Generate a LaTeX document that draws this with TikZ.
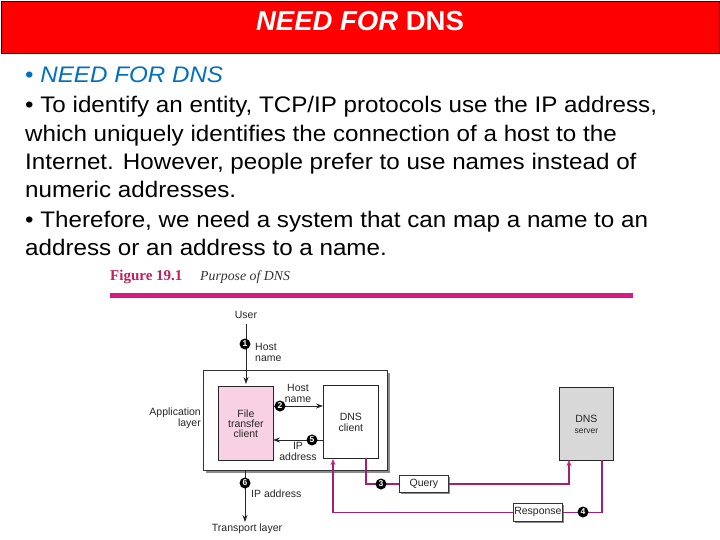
\documentclass[tikz,border=0pt]{standalone}
\usepackage{fontspec}
\setmainfont{Liberation Sans}
\newfontfamily\figserif{Liberation Serif}
\usetikzlibrary{arrows.meta}
\definecolor{titlered}{RGB}{255,0,0}
\definecolor{bodyblue}{RGB}{0,112,192}
\definecolor{figred}{RGB}{196,30,90}
\definecolor{figline}{RGB}{220,25,130}
\definecolor{mag}{RGB}{165,30,115}
\definecolor{magarrow}{RGB}{220,30,140}
\definecolor{pinkfill}{RGB}{248,210,228}
\definecolor{srvgray}{RGB}{216,216,216}
\newcommand{\bodytxt}[1]{\scalebox{1.075}[1]{#1}}
\tikzset{
  bodyline/.style={anchor=base west, inner sep=0pt, font=\fontsize{22.5}{26}\selectfont},
  figtext/.style={font=\fontsize{10.5}{11}\selectfont, inner sep=0pt, align=center, text=black!85},
  numdot/.style={circle, fill=black, text=white, inner sep=0pt, minimum size=11pt, font=\fontsize{8.5}{8.5}\selectfont\bfseries},
  arr/.style={draw=black!85, line width=0.8pt, -{Stealth[length=7pt,width=5pt]}},
  magline/.style={draw=mag, line width=1.6pt},
  magarr/.style={magline, -{Stealth[length=6pt,width=5pt,color=magarrow]}},
  shadowbox/.style={draw=black!80, line width=0.8pt},
}
\begin{document}
\begin{tikzpicture}[x=1pt,y=-1pt]
\useasboundingbox (0,0) rectangle (720,540);
\fill[white] (0,0) rectangle (720,540);
% title bar
\node[draw=black, fill=titlered, line width=1pt, minimum width=718pt, minimum height=52pt, anchor=north west, inner sep=0pt] (bar) at (1,1) {};
\node[text=white, font=\bfseries\fontsize{27.5}{30}\selectfont] (title) at (360,21) {\textit{NEED FOR} DNS};
% body
\node[bodyline, text=bodyblue] (l1) at (25,83) {\bodytxt{\textbullet{} \textit{NEED FOR DNS}}};
\node[bodyline] (l2) at (25,113) {\bodytxt{\textbullet{} To identify an entity, TCP/IP protocols use the IP address,}};
\node[bodyline] (l3) at (25,142) {\bodytxt{which uniquely identifies the connection of a host to the}};
\node[bodyline] (l4) at (25,170) {\bodytxt{Internet. However, people prefer to use names instead of}};
\node[bodyline] (l5) at (25,198) {\bodytxt{numeric addresses.}};
\node[bodyline] (l6) at (25,227) {\bodytxt{\textbullet{} Therefore, we need a system that can map a name to an}};
\node[bodyline] (l7) at (25,255) {\bodytxt{address or an address to a name.}};
% figure caption
\node[anchor=base west, inner sep=0pt, text=figred, font=\figserif\bfseries\fontsize{15}{16}\selectfont] (fig) at (110,280) {Figure 19.1};
\node[anchor=base west, inner sep=0pt, text=black!80, font=\figserif\itshape\fontsize{13.8}{16}\selectfont] (figcap) at (200,280) {Purpose of DNS};
\draw[figline, line width=5pt] (110,295) -- (633,295);
% application layer box with shadow
\fill[black!45] (206,373) rectangle (390,473);
\node[shadowbox, fill=white, anchor=north west, minimum width=184pt, minimum height=100pt, inner sep=0pt] (app) at (203,370) {};
\node[figtext, anchor=east, align=right] (applbl) at (201,418) {Application\\layer};
% file transfer client
\node[draw=black!85, fill=pinkfill, line width=0.8pt, anchor=north west, minimum width=55pt, minimum height=74pt, inner sep=0pt] (ftc) at (218,386) {};
\node[figtext] (ftctext) at (ftc.center) {File\\[-1pt]transfer\\[-1pt]client};
% DNS client
\node[draw=black!85, fill=white, line width=0.8pt, anchor=north west, minimum width=55pt, minimum height=73pt, inner sep=0pt] (dnsc) at (323,385) {};
\node[figtext] (dnsctext) at (dnsc.center) {DNS\\client};
% DNS server
\node[draw=black!85, fill=srvgray, line width=0.8pt, anchor=north west, minimum width=54pt, minimum height=73pt, inner sep=0pt] (srv) at (559,387) {};
\node[figtext] (srvtext) at (srv.center) {DNS\\{\fontsize{8.5}{9}\selectfont server}};
% user
\node[figtext] (user) at (246,315) {User};
\coordinate (u1) at (246,324);
\draw[arr] (u1) -- (246,384);
\node[numdot] (n1) at (245,344) {1};
\node[figtext, anchor=west, align=left] (hn1) at (255,352) {Host\\name};
% arrow 2
\coordinate (a2s) at (273,406);
\coordinate (a2e) at (323,406);
\draw[arr] (a2s) -- (a2e);
\node[numdot] (n2) at (280,406) {2};
\node[figtext] (hn2) at (298,393) {Host\\name};
% arrow 5
\coordinate (a5s) at (323,440);
\coordinate (a5e) at (273,440);
\draw[arr] (a5s) -- (a5e);
\node[numdot] (n5) at (312,440) {5};
\node[figtext] (ip5) at (298,451) {IP\\address};
% arrow 6
\coordinate (a6s) at (245,470);
\coordinate (a6e) at (245,522);
\draw[arr] (a6s) -- (a6e);
\node[numdot] (n6) at (245,483) {6};
\node[figtext, anchor=west] (ip6) at (251,494) {IP address};
\node[figtext] (tl) at (247,529) {Transport layer};
% query box
\fill[black!45] (401,477) rectangle (450,494);
\node[shadowbox, fill=white, anchor=north west, minimum width=49pt, minimum height=17pt, inner sep=0pt] (query) at (399,475) {};
\node[figtext] (qtext) at (query.center) {Query};
% response box
\fill[black!45] (515,505) rectangle (564,523);
\node[shadowbox, fill=white, anchor=north west, minimum width=49pt, minimum height=18pt, inner sep=0pt] (resp) at (513,503) {};
\node[figtext] (rtext) at (resp.center) {Response};
% magenta connections
\draw[magline] (366,458) |- (query.west);
\draw[magarr] (query.east) -| (569,460);
\draw[magline] (602,460) |- (resp.east);
\draw[magarr] (resp.west) -| (333,459);
\node[numdot] (n3) at (381,484) {3};
\node[numdot] (n4) at (583,512) {4};
\end{tikzpicture}
\end{document}
